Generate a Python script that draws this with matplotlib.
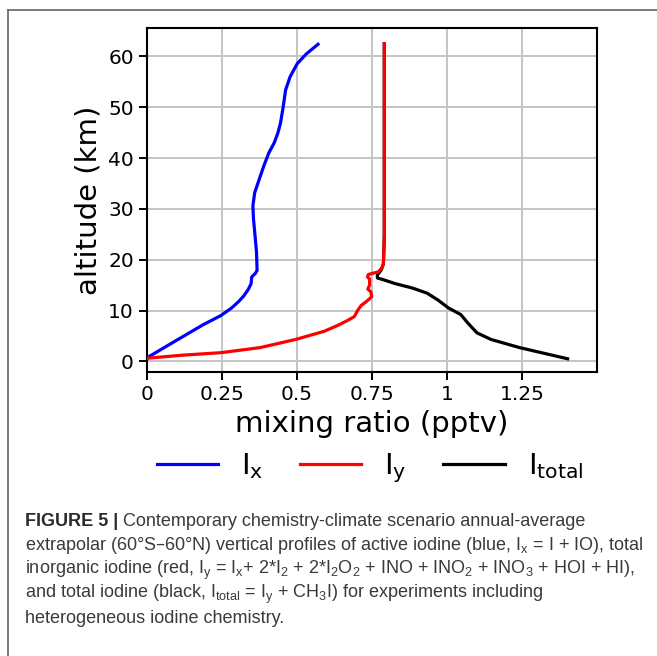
import matplotlib
matplotlib.use("Agg")
import matplotlib.pyplot as plt
from matplotlib.lines import Line2D

# profiles: (mixing ratio pptv, altitude km)
ix_ratio = [0.0, 0.083, 0.187, 0.246, 0.282, 0.306, 0.323, 0.338, 0.347, 0.349, 0.361,
            0.367, 0.365, 0.360, 0.355, 0.353, 0.359, 0.374, 0.389, 0.406, 0.424,
            0.436, 0.445, 0.454, 0.462, 0.477, 0.501, 0.531, 0.570]
ix_alt = [0.7, 3.6, 7.2, 9.0, 10.5, 11.8, 12.9, 14.2, 15.3, 16.6, 17.3,
          17.9, 21.5, 24.8, 28.0, 30.6, 33.2, 35.8, 38.4, 41.0, 43.0,
          44.9, 46.9, 50.1, 53.4, 56.0, 58.6, 60.5, 62.4]

iy_ratio = [0.0, 0.116, 0.246, 0.377, 0.495, 0.590, 0.637, 0.667, 0.691, 0.703, 0.714,
            0.732, 0.749, 0.746, 0.736, 0.742, 0.742, 0.735, 0.738, 0.771, 0.783,
            0.788, 0.791, 0.791, 0.791]
iy_alt = [0.6, 1.2, 1.7, 2.7, 4.3, 5.9, 7.1, 8.0, 8.8, 10.1, 11.0,
          11.8, 12.7, 13.7, 14.2, 15.0, 16.2, 16.6, 17.1, 17.6, 18.4,
          19.2, 24.8, 41.0, 62.5]

itot_ratio = [1.402, 1.242, 1.147, 1.100, 1.070, 1.046, 1.005, 0.969, 0.934, 0.886,
              0.827, 0.791, 0.768, 0.768, 0.780, 0.788, 0.791, 0.791, 0.791]
itot_alt = [0.5, 2.7, 4.3, 5.6, 7.5, 9.2, 10.5, 12.1, 13.4, 14.4,
            15.3, 16.0, 16.4, 17.0, 17.9, 19.2, 24.8, 41.0, 62.5]

labels = [r"$\mathregular{I_x}$", r"$\mathregular{I_y}$", r"$\mathregular{I_{total}}$"]
x_ticks = [0, 0.25, 0.5, 0.75, 1, 1.25]
x_tick_labels = ["0", "0.25", "0.5", "0.75", "1", "1.25"]
y_ticks = [0, 10, 20, 30, 40, 50, 60]

caption_head = "FIGURE 5 |"
caption_lines = [
    " Contemporary chemistry-climate scenario annual-average",
    "extrapolar (60°S–60°N) vertical profiles of active iodine (blue, I$_\\mathregular{x}$ = I + IO), total",
    "inorganic iodine (red, I$_\\mathregular{y}$ = I$_\\mathregular{x}$+ 2*I$_\\mathregular{2}$ + 2*I$_\\mathregular{2}$O$_\\mathregular{2}$"
    " + INO + INO$_\\mathregular{2}$ + INO$_\\mathregular{3}$ + HOI + HI),",
    "and total iodine (black, I$_\\mathregular{total}$ = I$_\\mathregular{y}$ + CH$_\\mathregular{3}$I) for experiments including",
    "heterogeneous iodine chemistry.",
]

W, H = 657, 656
fig = plt.figure(figsize=(W / 100, H / 100), dpi=100)
ax = fig.add_axes([147 / W, 1 - 372 / H, 450 / W, 344 / H])

ax.plot(ix_ratio, ix_alt, c="blue", lw=2.3, label=labels[0], zorder=3)
ax.plot(iy_ratio, iy_alt, c="red", lw=2.3, label=labels[1], zorder=3)
ax.plot(itot_ratio, itot_alt, c="black", lw=2.3, label=labels[2], zorder=2.5)

ax.set_xlim(0, 1.5)
ax.set_ylim(-2.1, 65.6)
ax.set_xticks(x_ticks)
ax.set_xticklabels(x_tick_labels)
ax.set_yticks(y_ticks)
ax.grid(True, color="#c4c4c4", lw=1.4)
ax.tick_params(axis="both", labelsize=14.5, length=6, width=1.4)
for s in ax.spines.values():
    s.set_linewidth(1.5)
ax.set_xlabel("mixing ratio (pptv)", fontsize=21, labelpad=4)
ax.set_ylabel("altitude (km)", fontsize=21, labelpad=4)

ax.legend(loc="center", bbox_to_anchor=(370 / W, (H - 468) / H), bbox_transform=fig.transFigure,
          ncol=3, frameon=False, fontsize=21, handlelength=2.1, columnspacing=1.25,
          handletextpad=0.8)

# frame around the figure panel
edge = "#6e6e6e"
fig.add_artist(Line2D([8 / W, 1], [1 - 10 / H] * 2, transform=fig.transFigure, c=edge, lw=1.3))
fig.add_artist(Line2D([8 / W, 8 / W], [0, 1 - 10 / H], transform=fig.transFigure, c=edge, lw=1.3))

# caption
cap_font = "Liberation Sans"
cap_col = "#3a3a3a"
x0 = 25 / W
head = fig.text(x0, 1 - 522 / H, caption_head, fontsize=13, fontweight="bold",
                family=cap_font, color="#2a2a2a", va="center")
fig.canvas.draw()
bb = head.get_window_extent(renderer=fig.canvas.get_renderer())
fig.text(bb.x1 / W, 1 - 522 / H, caption_lines[0], fontsize=13, family=cap_font,
         color=cap_col, va="center")
for i, line in enumerate(caption_lines[1:]):
    fig.text(x0, 1 - (546 + 24.3 * i) / H, line, fontsize=13, family=cap_font,
             color=cap_col, va="center")

fig.savefig("out.png", dpi=100)
